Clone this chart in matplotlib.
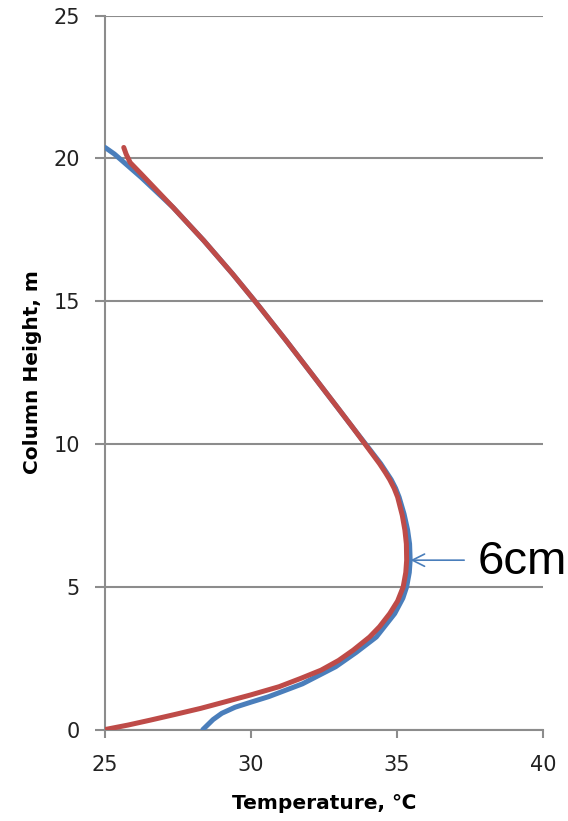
import matplotlib.pyplot as plt

# temperature profiles along the column (T in degC, height in m)
redTemp   = [25.0, 25.8, 26.55, 27.4, 28.27, 29.11, 29.98, 30.96, 31.7, 32.4, 33.0, 33.5,
             34.06, 34.4, 34.75, 35.02, 35.21, 35.3, 35.33, 35.32, 35.27, 35.18, 35.02, 34.9,
             34.75, 34.6, 34.4, 33.9, 33.45, 32.95, 32.08, 31.2, 30.18, 29.37, 28.38, 27.33,
             26.24, 25.86, 25.72, 25.64]
redHeight = [0.0, 0.16, 0.33, 0.53, 0.74, 0.97, 1.21, 1.5, 1.79, 2.08, 2.42, 2.78,
             3.24, 3.6, 4.06, 4.5, 4.99, 5.5, 5.93, 6.5, 6.98, 7.5, 8.14, 8.45,
             8.75, 9.0, 9.31, 10.0, 10.62, 11.29, 12.45, 13.62, 14.94, 15.95, 17.12, 18.28,
             19.45, 19.85, 20.15, 20.38]

blueTemp   = [28.35, 28.5, 28.7, 29.0, 29.45, 30.0, 30.6, 31.76, 32.9, 33.6, 34.29, 34.92,
              35.2, 35.33, 35.42, 35.45, 35.43, 35.36, 35.24, 35.07, 34.95, 34.8, 34.64,
              34.44, 33.92, 33.45, 32.95, 32.08, 31.2, 30.18, 29.37, 28.38, 27.33, 26.24,
              25.78, 25.32, 25.0]
blueHeight = [0.0, 0.15, 0.35, 0.57, 0.78, 0.96, 1.15, 1.6, 2.2, 2.7, 3.24, 4.06,
              4.6, 5.0, 5.5, 5.93, 6.5, 7.0, 7.55, 8.14, 8.45, 8.75, 9.0,
              9.31, 10.0, 10.62, 11.29, 12.45, 13.62, 14.94, 15.95, 17.12, 18.28, 19.33,
              19.74, 20.15, 20.38]

xTicks = [25, 30, 35, 40]
yTicks = [0, 5, 10, 15, 20, 25]

GRID = '#8c8c8c'

fig = plt.figure(figsize=(5.68, 8.21), dpi=100)
ax = fig.add_axes([0.185, 0.1114, 0.771, 0.8697])

ax.plot(blueTemp, blueHeight, color='#4a7ebb', lw=3.6, solid_capstyle='round',
        solid_joinstyle='round', zorder=3)
ax.plot(redTemp, redHeight, color='#be4b48', lw=3.6, solid_capstyle='round',
        solid_joinstyle='round', zorder=4)

ax.set_xlim(25, 40)
ax.set_ylim(0, 25)
ax.set_xticks(xTicks)
ax.set_yticks(yTicks)
ax.yaxis.grid(True, color=GRID, lw=1.5)
ax.set_axisbelow(True)

for side in ['top', 'right']:
    ax.spines[side].set_visible(False)
for side in ['left', 'bottom']:
    ax.spines[side].set_color(GRID)
    ax.spines[side].set_linewidth(1.5)

ax.tick_params(axis='y', length=7, width=1.5, color=GRID, labelsize=15, pad=11, labelcolor='#222222')
ax.tick_params(axis='x', length=6, width=1.5, color=GRID, labelsize=15, pad=12, labelcolor='#222222')

ax.set_xlabel('Temperature, \u2103', fontsize=14.5, fontweight='bold', labelpad=14)
ax.set_ylabel('Column Height, m', fontsize=14.5, fontweight='bold', labelpad=8)

ax.annotate('', xy=(35.46, 5.93), xytext=(37.3, 5.93),
            arrowprops=dict(arrowstyle='->', color='#4a7ebb', lw=1.2, mutation_scale=22,
                            shrinkA=0, shrinkB=0),
            annotation_clip=False)
ax.text(37.75, 5.85, '6cm', fontsize=34, family='Liberation Sans', va='center', ha='left',
        clip_on=False)

fig.savefig('out.png', dpi=100)
